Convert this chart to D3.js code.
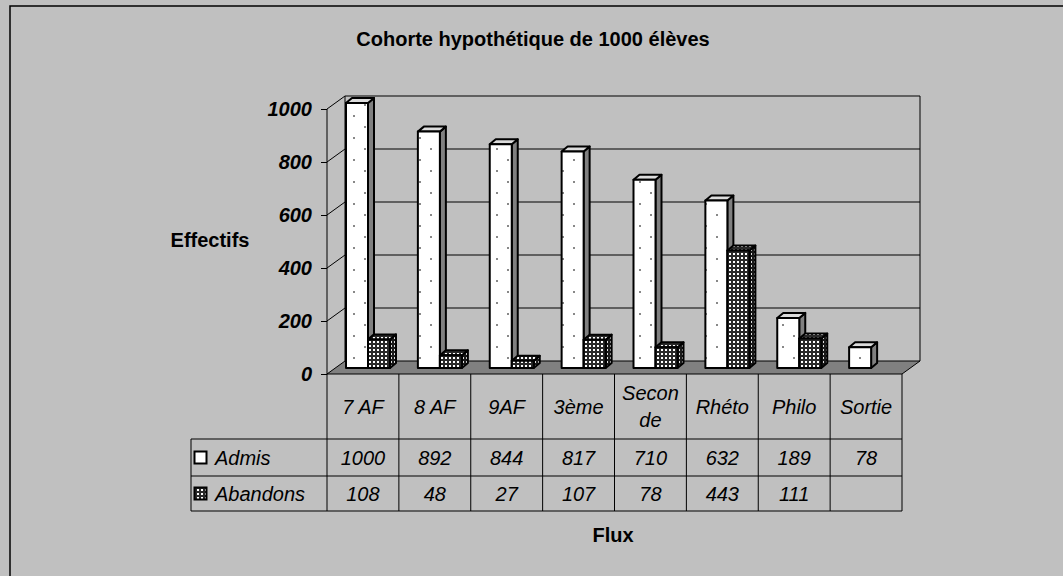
<!DOCTYPE html>
<html>
<head>
<meta charset="utf-8">
<script src="https://cdnjs.cloudflare.com/ajax/libs/d3/7.8.5/d3.min.js"></script>
<style>
body { margin: 0; background: #c0c0c0; }
text { font-family: "Liberation Sans", Arial, sans-serif; fill: #000; }
</style>
</head>
<body>
<script>
// donnees
var categories = ["7 AF", "8 AF", "9AF", "3ème", "Seconde", "Rhéto", "Philo", "Sortie"];
var seriesNames = ["Admis", "Abandons"];
var admis = [1000, 892, 844, 817, 710, 632, 189, 78];
var abandons = [108, 48, 27, 107, 78, 443, 111, null];
var yTicks = [0, 200, 400, 600, 800, 1000];
var title = "Cohorte hypothétique de 1000 élèves";

var width = 1063, height = 576;

// geometrie du graphe 3D
var plot = {left: 327, right: 902, bottom: 374, top: 109};
var depth = {x: 18, y: 13};       // profondeur du plancher
var barOff = {x: 5, y: 6};        // position avant des barres
var barDepth = {x: 6, y: 5};      // epaisseur des barres
var table = {left: 191, row0: 439, row1: 476, row2: 511};

var x = d3.scaleBand().domain(categories).range([plot.left, plot.right]);
var xs = d3.scaleBand().domain(seriesNames).range([14, 58]);
var y = d3.scaleLinear().domain([0, 1000]).range([plot.bottom, plot.top]);

var svg = d3.select("body").append("svg")
    .attr("width", width)
    .attr("height", height);

// motifs
var defs = svg.append("defs");
var pA = defs.append("pattern").attr("id", "patAdmis")
    .attr("patternUnits", "userSpaceOnUse").attr("width", 22).attr("height", 22);
pA.append("rect").attr("width", 22).attr("height", 22).attr("fill", "#fff");
pA.append("rect").attr("x", 1).attr("y", 5).attr("width", 2).attr("height", 2).attr("fill", "#888");
pA.append("rect").attr("x", 12).attr("y", 16).attr("width", 2).attr("height", 2).attr("fill", "#888");

var pB = defs.append("pattern").attr("id", "patAband")
    .attr("patternUnits", "userSpaceOnUse").attr("width", 4).attr("height", 4);
pB.append("rect").attr("width", 4).attr("height", 4).attr("fill", "#2a2a2a");
pB.append("rect").attr("x", 1).attr("y", 1).attr("width", 2).attr("height", 2).attr("fill", "#fff");

var pC = defs.append("pattern").attr("id", "patAbandSide")
    .attr("patternUnits", "userSpaceOnUse").attr("width", 3).attr("height", 4);
pC.append("rect").attr("width", 3).attr("height", 4).attr("fill", "#1a1a1a");
pC.append("rect").attr("x", 1).attr("y", 1).attr("width", 1).attr("height", 2).attr("fill", "#ddd");

var styles = {
    "Admis": {front: "url(#patAdmis)", side: "#808080", top: "#dcdcdc"},
    "Abandons": {front: "url(#patAband)", side: "url(#patAbandSide)", top: "url(#patAband)"}
};

// fond et cadre
svg.append("rect").attr("width", width).attr("height", height).attr("fill", "#c0c0c0");
svg.append("rect")
    .attr("x", 10).attr("y", 6).attr("width", 1100).attr("height", 600)
    .attr("fill", "none").attr("stroke", "#000").attr("stroke-width", 1.5);

function pts(a) { return a.map(function(p) { return p.join(","); }).join(" "); }

// plancher
svg.append("polygon")
    .attr("points", pts([[plot.left, y(0)], [plot.right, y(0)],
        [plot.right + depth.x, y(0) - depth.y], [plot.left + depth.x, y(0) - depth.y]]))
    .attr("fill", "#808080").attr("stroke", "#000").attr("stroke-width", 1);

// mur du fond, quadrillage
var grid = svg.append("g").attr("stroke", "#000").attr("stroke-width", 1);
grid.selectAll(".gl").data(yTicks.slice(1)).enter().append("line")
    .attr("x1", plot.left + depth.x).attr("x2", plot.right + depth.x)
    .attr("y1", function(d) { return y(d) - depth.y; })
    .attr("y2", function(d) { return y(d) - depth.y; });
grid.selectAll(".wl").data(yTicks.slice(1)).enter().append("line")
    .attr("x1", plot.left).attr("x2", plot.left + depth.x)
    .attr("y1", function(d) { return y(d); })
    .attr("y2", function(d) { return y(d) - depth.y; });
grid.append("line")
    .attr("x1", plot.left + depth.x).attr("x2", plot.left + depth.x)
    .attr("y1", y(1000) - depth.y).attr("y2", y(0) - depth.y);
grid.append("line")
    .attr("x1", plot.right + depth.x).attr("x2", plot.right + depth.x)
    .attr("y1", y(1000) - depth.y).attr("y2", y(0) - depth.y);

// axe vertical
svg.append("g")
    .attr("transform", "translate(" + plot.left + ",0)")
    .call(d3.axisLeft(y).tickValues(yTicks).tickFormat(d3.format("d")).tickSize(6).tickPadding(9))
    .call(function(g) {
        g.select(".domain").remove();
        g.selectAll("line").attr("stroke", "#000");
        g.selectAll("text")
            .style("font-family", "'Liberation Sans', Arial, sans-serif")
            .style("font-size", "20px").style("font-weight", "bold").style("font-style", "italic")
            .attr("fill", "#000");
    });
svg.append("line")
    .attr("x1", plot.left).attr("x2", plot.left)
    .attr("y1", y(1000)).attr("y2", table.row2)
    .attr("stroke", "#000");

// barres
var bars = [];
categories.forEach(function(c, i) {
    bars.push({cat: c, s: "Admis", v: admis[i]});
    if (abandons[i] != null) bars.push({cat: c, s: "Abandons", v: abandons[i]});
});

var bar = svg.selectAll(".bar").data(bars).enter().append("g").attr("class", "bar")
    .attr("stroke", "#000").attr("stroke-width", 2).attr("stroke-linejoin", "round");
function bx0(d) { return x(d.cat) + xs(d.s) + barOff.x; }
function bx1(d) { return bx0(d) + xs.bandwidth(); }
function byb() { return y(0) - barOff.y; }
function byt(d) { return y(d.v) - barOff.y; }

bar.append("polygon")
    .attr("fill", function(d) { return styles[d.s].side; })
    .attr("points", function(d) {
        return pts([[bx1(d), byt(d)], [bx1(d) + barDepth.x, byt(d) - barDepth.y],
            [bx1(d) + barDepth.x, byb() - barDepth.y], [bx1(d), byb()]]);
    });
bar.append("polygon")
    .attr("fill", function(d) { return styles[d.s].top; })
    .attr("points", function(d) {
        return pts([[bx0(d), byt(d)], [bx0(d) + barDepth.x, byt(d) - barDepth.y],
            [bx1(d) + barDepth.x, byt(d) - barDepth.y], [bx1(d), byt(d)]]);
    });
bar.append("rect")
    .attr("fill", function(d) { return styles[d.s].front; })
    .attr("x", bx0)
    .attr("y", byt)
    .attr("width", xs.bandwidth())
    .attr("height", function(d) { return byb() - byt(d); });

// tableau de donnees
var tg = svg.append("g").attr("stroke", "#000").attr("stroke-width", 1);
[table.row0, table.row1, table.row2].forEach(function(ry) {
    tg.append("line").attr("x1", table.left).attr("x2", plot.right).attr("y1", ry).attr("y2", ry);
});
tg.append("line").attr("x1", table.left).attr("x2", table.left).attr("y1", table.row0).attr("y2", table.row2);
tg.selectAll(".vl").data(categories.slice(1)).enter().append("line")
    .attr("x1", function(d) { return x(d); }).attr("x2", function(d) { return x(d); })
    .attr("y1", y(0)).attr("y2", table.row2);
tg.append("line").attr("x1", plot.right).attr("x2", plot.right).attr("y1", y(0)).attr("y2", table.row2);

var cellFont = function(sel) {
    sel.style("font-size", "20px").style("font-style", "italic").attr("text-anchor", "middle");
};

// entetes de categories (retour a la ligne si trop large)
categories.forEach(function(c) {
    var cx = x(c) + x.bandwidth() / 2;
    var t = svg.append("text").call(cellFont).attr("x", cx).text(c);
    var lines = [c];
    if (t.node().getComputedTextLength() > x.bandwidth() - 8) {
        lines = [];
        var cur = "";
        c.split("").forEach(function(ch) {
            t.text(cur + ch);
            if (t.node().getComputedTextLength() > x.bandwidth() - 8 && cur) {
                lines.push(cur); cur = ch;
            } else cur += ch;
        });
        lines.push(cur);
    }
    t.text(null);
    var midY = (y(0) + table.row0) / 2;
    lines.forEach(function(l, k) {
        t.append("tspan").attr("x", cx)
            .attr("y", midY + 7 + (k - (lines.length - 1) / 2) * 27)
            .text(l);
    });
});

var rows = [{name: "Admis", vals: admis, y0: table.row0, y1: table.row1},
            {name: "Abandons", vals: abandons, y0: table.row1, y1: table.row2}];
rows.forEach(function(r) {
    var cy = (r.y0 + r.y1) / 2;
    svg.selectAll(null).data(categories).enter().append("text")
        .call(cellFont)
        .attr("x", function(d) { return x(d) + x.bandwidth() / 2; })
        .attr("y", cy + 7)
        .text(function(d, i) { return r.vals[i] == null ? "" : r.vals[i]; });
    svg.append("rect")
        .attr("x", table.left + 3.5).attr("y", cy - 6).attr("width", 12).attr("height", 12)
        .attr("fill", r.name === "Admis" ? "#fff" : "url(#patAband)")
        .attr("stroke", "#000").attr("stroke-width", 2);
    svg.append("text")
        .attr("x", table.left + 24).attr("y", cy + 7)
        .style("font-size", "20px").style("font-style", "italic")
        .text(r.name);
});

// titres
svg.append("text")
    .attr("x", 533).attr("y", 46).attr("text-anchor", "middle")
    .style("font-size", "20px").style("font-weight", "bold")
    .text(title);
svg.append("text")
    .attr("x", 210).attr("y", 247).attr("text-anchor", "middle")
    .style("font-size", "20px").style("font-weight", "bold")
    .text("Effectifs");
svg.append("text")
    .attr("x", 613).attr("y", 542).attr("text-anchor", "middle")
    .style("font-size", "20px").style("font-weight", "bold")
    .text("Flux");
</script>
</body>
</html>
